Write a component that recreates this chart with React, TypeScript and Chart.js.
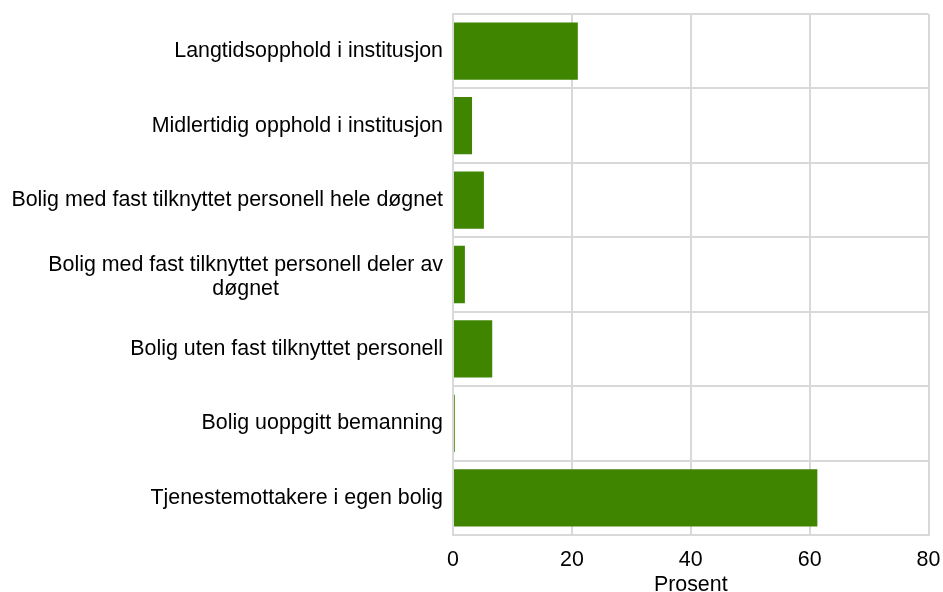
import React, { useEffect, useRef } from "react";
import { Chart, registerables } from "chart.js";

Chart.register(...registerables);

const categories: (string | string[])[] = [
  "Langtidsopphold i institusjon",
  "Midlertidig opphold i institusjon",
  "Bolig med fast tilknyttet personell hele døgnet",
  ["Bolig med fast tilknyttet personell deler av", "døgnet"],
  "Bolig uten fast tilknyttet personell",
  "Bolig uoppgitt bemanning",
  "Tjenestemottakere i egen bolig",
];
const values = [21.0, 3.2, 5.2, 2.0, 6.6, 0.3, 61.3];
const xTicks = [0, 20, 40, 60, 80];
const xTitle = "Prosent";

const FAMILY = "'Liberation Sans', Arial, sans-serif";
const SIZE = 21.4;

const yLabelPlugin = {
  id: "yLabels",
  afterDraw(chart: any) {
    const y = chart.scales.y;
    const ctx = chart.ctx;
    ctx.save();
    ctx.font = `${SIZE}px ${FAMILY}`;
    ctx.fillStyle = "#000";
    ctx.textAlign = "center";
    ctx.textBaseline = "middle";
    const right = y.right - 10;
    const lh = 23.5;
    y.ticks.forEach((_t: any, i: number) => {
      const lab = categories[i];
      const lines = Array.isArray(lab) ? lab : [lab];
      const maxW = Math.max(...lines.map((l) => ctx.measureText(l).width));
      const cx = right - maxW / 2;
      const yc = y.getPixelForTick(i) + (lines.length - 1) * 2.5;
      lines.forEach((l, j) => {
        ctx.fillText(l, cx, yc + (j - (lines.length - 1) / 2) * lh);
      });
    });
    ctx.restore();
  },
};

export default function App() {
  const ref = useRef<HTMLCanvasElement | null>(null);
  useEffect(() => {
    document.body.style.margin = "0";
    const ctx = ref.current!;
    const font = { family: FAMILY, size: SIZE, lineHeight: 1.2 };
    const chart = new Chart(ctx, {
      type: "bar",
      data: {
        labels: categories,
        datasets: [
          {
            data: values,
            backgroundColor: "#3f8500",
            barPercentage: 0.77,
            categoryPercentage: 1,
          },
        ],
      },
      options: {
        indexAxis: "y",
        animation: false,
        responsive: false,
        maintainAspectRatio: false,
        layout: { padding: { top: 14, right: 0, bottom: 0, left: 0 } },
        plugins: { legend: { display: false }, tooltip: { enabled: false } },
        scales: {
          x: {
            min: 0,
            max: 80,
            afterBuildTicks: (s: any) => {
              s.ticks = xTicks.map((v) => ({ value: v }));
            },
            afterFit: (s: any) => {
              s.height = 57;
              s.paddingRight = 14.5;
              s.paddingLeft = 0;
            },
            ticks: { color: "#000", font, padding: 12, maxRotation: 0 },
            grid: { color: "#d9d9d9", lineWidth: 2, drawTicks: false },
            border: { color: "#d9d9d9", width: 2 },
            title: {
              display: true,
              text: xTitle,
              color: "#000",
              font,
              padding: { top: 0, bottom: -6 },
            },
          },
          y: {
            afterFit: (s: any) => {
              s.width = 453;
            },
            ticks: { display: false, autoSkip: false },
            grid: { color: "#d9d9d9", lineWidth: 2, drawTicks: false },
            border: { color: "#d9d9d9", width: 2 },
          },
        },
      },
      plugins: [yLabelPlugin],
    } as any);
    return () => chart.destroy();
  }, []);
  return (
    <div style={{ width: 943, height: 592 }}>
      <canvas ref={ref} width={943} height={592} style={{ display: "block" }} />
    </div>
  );
}
